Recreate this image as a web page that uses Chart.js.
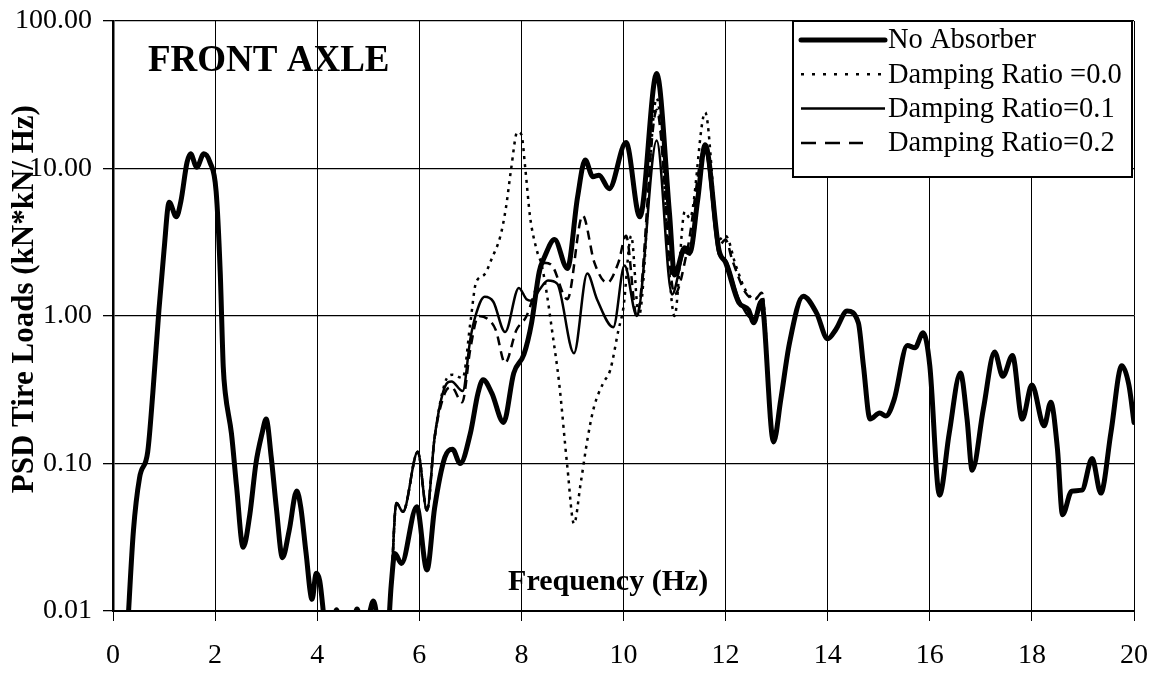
<!DOCTYPE html>
<html>
<head>
<meta charset="utf-8">
<title>PSD Tire Loads - Front Axle</title>
<script src="https://cdn.jsdelivr.net/npm/chart.js@4.4.1/dist/chart.umd.min.js"></script>
<style>
  html, body { margin: 0; padding: 0; background: #fff; }
  canvas { display: block; }
</style>
</head>
<body>
<canvas id="psdChart" width="1166" height="673"></canvas>
<script>
// PSD of tire loads, front axle
const seriesLabels = ['No Absorber', 'Damping Ratio =0.0', 'Damping Ratio=0.1', 'Damping Ratio=0.2'];
const yTicks = [0.01, 0.1, 1, 10, 100];

// 0 - 5.45 Hz : all four curves lie on top of each other
const lowFreq = [0.28, 0.4, 0.52, 0.68, 0.78, 0.9, 1.0, 1.1, 1.24, 1.33, 1.45, 1.52, 1.64, 1.78, 1.9, 2.02, 2.1, 2.16, 2.2, 2.32, 2.42, 2.55, 2.68, 2.8, 2.92, 3.0, 3.1, 3.2, 3.32, 3.45, 3.6, 3.68, 3.78, 3.9, 3.98, 4.05, 4.15, 4.25, 4.38, 4.5, 4.7, 4.78, 4.88, 5.0, 5.1, 5.2, 5.35, 5.45];
const lowPsd = [0.007, 0.035, 0.08, 0.12, 0.3, 1.1, 2.8, 5.9, 4.7, 6.0, 11, 12.6, 10.2, 12.6, 11, 7.0, 2.0, 0.45, 0.3, 0.16, 0.07, 0.027, 0.045, 0.1, 0.16, 0.2, 0.11, 0.05, 0.023, 0.035, 0.065, 0.05, 0.025, 0.012, 0.018, 0.016, 0.008, 0.005, 0.0102, 0.006, 0.008, 0.0103, 0.008, 0.009, 0.0117, 0.008, 0.005, 0.015];

// 12.9 - 20 Hz : curves merge again
const highFreq = [12.94, 13.08, 13.25, 13.52, 13.78, 14.0, 14.16, 14.38, 14.6, 14.7, 14.83, 15.02, 15.14, 15.3, 15.56, 15.71, 15.87, 16.0, 16.19, 16.38, 16.6, 16.73, 16.83, 17.05, 17.27, 17.43, 17.62, 17.81, 18.0, 18.24, 18.37, 18.5, 18.6, 18.78, 18.98, 19.18, 19.35, 19.55, 19.76, 19.9, 20.0];
const highPsd = [0.14, 0.27, 0.65, 1.36, 1.05, 0.7, 0.81, 1.08, 0.9, 0.46, 0.2, 0.22, 0.21, 0.27, 0.63, 0.61, 0.77, 0.46, 0.061, 0.16, 0.41, 0.2, 0.09, 0.235, 0.57, 0.39, 0.54, 0.2, 0.34, 0.18, 0.26, 0.126, 0.045, 0.065, 0.066, 0.108, 0.063, 0.164, 0.46, 0.34, 0.19];

// middle band, one pair per curve
const noAbsFreq = [5.52, 5.65, 5.95, 6.15, 6.3, 6.5, 6.65, 6.8, 7.0, 7.15, 7.25, 7.42, 7.65, 7.85, 8.05, 8.2, 8.35, 8.45, 8.65, 8.9, 9.1, 9.25, 9.4, 9.52, 9.72, 10.05, 10.32, 10.65, 10.9, 11.0, 11.2, 11.3, 11.45, 11.6, 11.87, 12.0, 12.26, 12.45, 12.55, 12.7];
const noAbsPsd = [0.0245, 0.021, 0.051, 0.019, 0.05, 0.11, 0.125, 0.1, 0.16, 0.3, 0.37, 0.3, 0.19, 0.41, 0.55, 0.9, 2.0, 2.5, 3.3, 2.1, 6.4, 11.4, 8.8, 9.0, 7.3, 15, 4.7, 44, 5.0, 1.9, 2.9, 2.7, 6.0, 14.5, 2.8, 2.3, 1.23, 1.1, 0.9, 1.25];

const damp00Freq = [5.55, 5.68, 5.97, 6.15, 6.3, 6.5, 6.65, 6.85, 7.0, 7.11, 7.27, 7.43, 7.59, 7.7, 7.8, 7.92, 8.0, 8.08, 8.17, 8.3, 8.4, 8.5, 8.6, 8.74, 8.9, 9.03, 9.16, 9.3, 9.42, 9.6, 9.74, 9.9, 10.0, 10.15, 10.3, 10.65, 11.0, 11.2, 11.3, 11.6, 11.87, 12.0, 12.2, 12.39, 12.58, 12.71];
const damp00Psd = [0.054, 0.047, 0.12, 0.048, 0.15, 0.35, 0.4, 0.38, 0.9, 1.68, 1.9, 2.5, 3.5, 5.5, 10, 17.7, 17, 9.7, 4.7, 2.8, 2.2, 1.4, 0.8, 0.35, 0.095, 0.039, 0.073, 0.15, 0.24, 0.35, 0.43, 0.8, 1.15, 3.5, 1.0, 30, 1.0, 5.1, 4.6, 24, 3.3, 3.5, 2.2, 1.5, 1.3, 1.44];

const damp01Freq = [5.55, 5.68, 5.97, 6.15, 6.3, 6.5, 6.63, 6.85, 7.0, 7.1, 7.28, 7.45, 7.68, 7.95, 8.1, 8.2, 8.35, 8.52, 8.7, 9.03, 9.29, 9.48, 9.8, 10.02, 10.26, 10.65, 10.95, 11.2, 11.3, 11.6, 11.87, 12.0, 12.26, 12.55, 12.7];
const damp01Psd = [0.054, 0.047, 0.12, 0.048, 0.15, 0.33, 0.36, 0.31, 0.7, 1.0, 1.35, 1.25, 0.78, 1.55, 1.3, 1.27, 1.5, 1.74, 1.66, 0.56, 1.94, 1.3, 0.84, 2.2, 1.0, 15.5, 1.4, 2.7, 2.6, 13, 2.6, 2.4, 1.3, 0.95, 1.3];

const damp02Freq = [5.55, 5.68, 5.97, 6.15, 6.3, 6.5, 6.63, 6.84, 7.0, 7.16, 7.35, 7.5, 7.68, 7.9, 8.1, 8.3, 8.45, 8.6, 8.9, 9.2, 9.43, 9.68, 9.9, 10.05, 10.26, 10.65, 11.0, 11.25, 11.6, 11.87, 12.0, 12.13, 12.39, 12.58, 12.71];
const damp02Psd = [0.054, 0.047, 0.12, 0.048, 0.15, 0.3, 0.33, 0.26, 0.6, 1.0, 0.95, 0.8, 0.48, 0.8, 1.0, 1.6, 2.3, 2.2, 1.3, 4.8, 2.3, 1.68, 2.3, 3.5, 1.0, 25, 1.4, 2.8, 14, 3.0, 3.3, 2.4, 1.44, 1.3, 1.44];

function toPoints(freq, psd) {
    return freq.map((f, i) => ({ x: f, y: psd[i] }));
}

function curve(midFreq, midPsd) {
    return toPoints(lowFreq, lowPsd)
        .concat(toPoints(midFreq, midPsd))
        .concat(toPoints(highFreq, highPsd));
}

const serif = '"Liberation Serif", "Times New Roman", serif';

// axis titles, plot label and the boxed legend at the top right
const insideText = {
    id: 'insideText',
    afterDatasetsDraw(chart) {
        const { ctx, chartArea, scales } = chart;
        ctx.save();
        ctx.fillStyle = '#000';
        ctx.textBaseline = 'middle';

        ctx.font = 'bold 37px ' + serif;
        ctx.textAlign = 'left';
        ctx.fillText('FRONT AXLE', chartArea.left + 35, chartArea.top + 40);

        ctx.font = 'bold 30px ' + serif;
        ctx.textAlign = 'center';
        ctx.fillText('Frequency (Hz)', scales.x.getPixelForValue(9.7), chartArea.bottom - 29);

        // y axis title, sits over the tick labels like the original
        ctx.save();
        ctx.translate(25, scales.y.getPixelForValue(1.3));
        ctx.rotate(-Math.PI / 2);
        ctx.font = 'bold 31px ' + serif;
        ctx.fillText('PSD Tire Loads (kN*kN/ Hz)', 0, 0);
        ctx.restore();

        // legend
        const boxLeft = 793;
        const boxTop = chartArea.top;
        const boxRight = chartArea.right - 2;
        const boxBottom = boxTop + 156;
        ctx.fillStyle = '#fff';
        ctx.fillRect(boxLeft, boxTop, boxRight - boxLeft, boxBottom - boxTop);
        ctx.strokeStyle = '#000';
        ctx.lineWidth = 2;
        ctx.strokeRect(boxLeft, boxTop, boxRight - boxLeft, boxBottom - boxTop);

        ctx.font = '28.5px ' + serif;
        ctx.textAlign = 'left';
        chart.data.datasets.forEach((ds, i) => {
            const y = boxTop + 19 + i * 34.3;
            ctx.save();
            ctx.strokeStyle = '#000';
            ctx.lineWidth = ds.borderWidth;
            ctx.lineCap = i === 0 ? 'round' : 'butt';
            ctx.setLineDash(ds.legendDash || []);
            ctx.beginPath();
            ctx.moveTo(boxLeft + 8, y);
            ctx.lineTo(boxLeft + (i === 3 ? 70 : 92), y);
            ctx.stroke();
            ctx.restore();
            ctx.fillStyle = '#000';
            ctx.fillText(ds.label, boxLeft + 95, y + 1);
        });
        ctx.restore();
    }
};

document.addEventListener('DOMContentLoaded', function () {
    Chart.defaults.font.family = serif;
    Chart.defaults.color = '#000';

    const data = {
        datasets: [{
            label: seriesLabels[0],
            data: curve(noAbsFreq, noAbsPsd),
            borderColor: '#000',
            borderWidth: 5,
            borderCapStyle: 'round',
            order: 4
        }, {
            label: seriesLabels[1],
            data: curve(damp00Freq, damp00Psd),
            borderColor: '#000',
            borderWidth: 2.5,
            borderDash: [3, 5],
            legendDash: [3, 8],
            order: 3
        }, {
            label: seriesLabels[2],
            data: curve(damp01Freq, damp01Psd),
            borderColor: '#000',
            borderWidth: 2.5,
            order: 2
        }, {
            label: seriesLabels[3],
            data: curve(damp02Freq, damp02Psd),
            borderColor: '#000',
            borderWidth: 2.5,
            borderDash: [9, 6],
            legendDash: [15, 9],
            order: 1
        }]
    };

    const config = {
        type: 'line',
        data: data,
        plugins: [insideText],
        options: {
            responsive: false,
            animation: false,
            devicePixelRatio: 1,
            layout: {
                padding: { top: 21, right: 29, left: 0, bottom: 0 }
            },
            elements: {
                point: { radius: 0 },
                line: { cubicInterpolationMode: 'monotone', fill: false }
            },
            plugins: {
                legend: { display: false },
                title: { display: false },
                tooltip: { enabled: false }
            },
            scales: {
                x: {
                    type: 'linear',
                    min: 0,
                    max: 20,
                    afterFit: function (scale) { scale.height = 62; },
                    grid: {
                        color: '#000',
                        lineWidth: 1,
                        drawTicks: true,
                        tickLength: 10
                    },
                    border: { display: true, color: '#000', width: 2 },
                    ticks: {
                        stepSize: 2,
                        padding: 18,
                        maxRotation: 0,
                        font: { size: 28 },
                        callback: value => String(value)
                    }
                },
                y: {
                    type: 'logarithmic',
                    min: 0.01,
                    max: 100,
                    afterFit: function (scale) {
                        scale.width = 113;
                        scale.paddingTop = 0;
                        scale.paddingBottom = 0;
                    },
                    afterBuildTicks: function (scale) {
                        scale.ticks = yTicks.map(v => ({ value: v }));
                    },
                    grid: {
                        color: '#000',
                        lineWidth: 1.3,
                        drawTicks: true,
                        tickLength: 10
                    },
                    border: { display: true, color: '#000', width: 2.5 },
                    ticks: {
                        padding: 11,
                        font: { size: 28 },
                        callback: value => Number(value).toFixed(2)
                    }
                }
            }
        }
    };

    const psdChart = new Chart(
        document.getElementById('psdChart'),
        config
    );
});
</script>
</body>
</html>
